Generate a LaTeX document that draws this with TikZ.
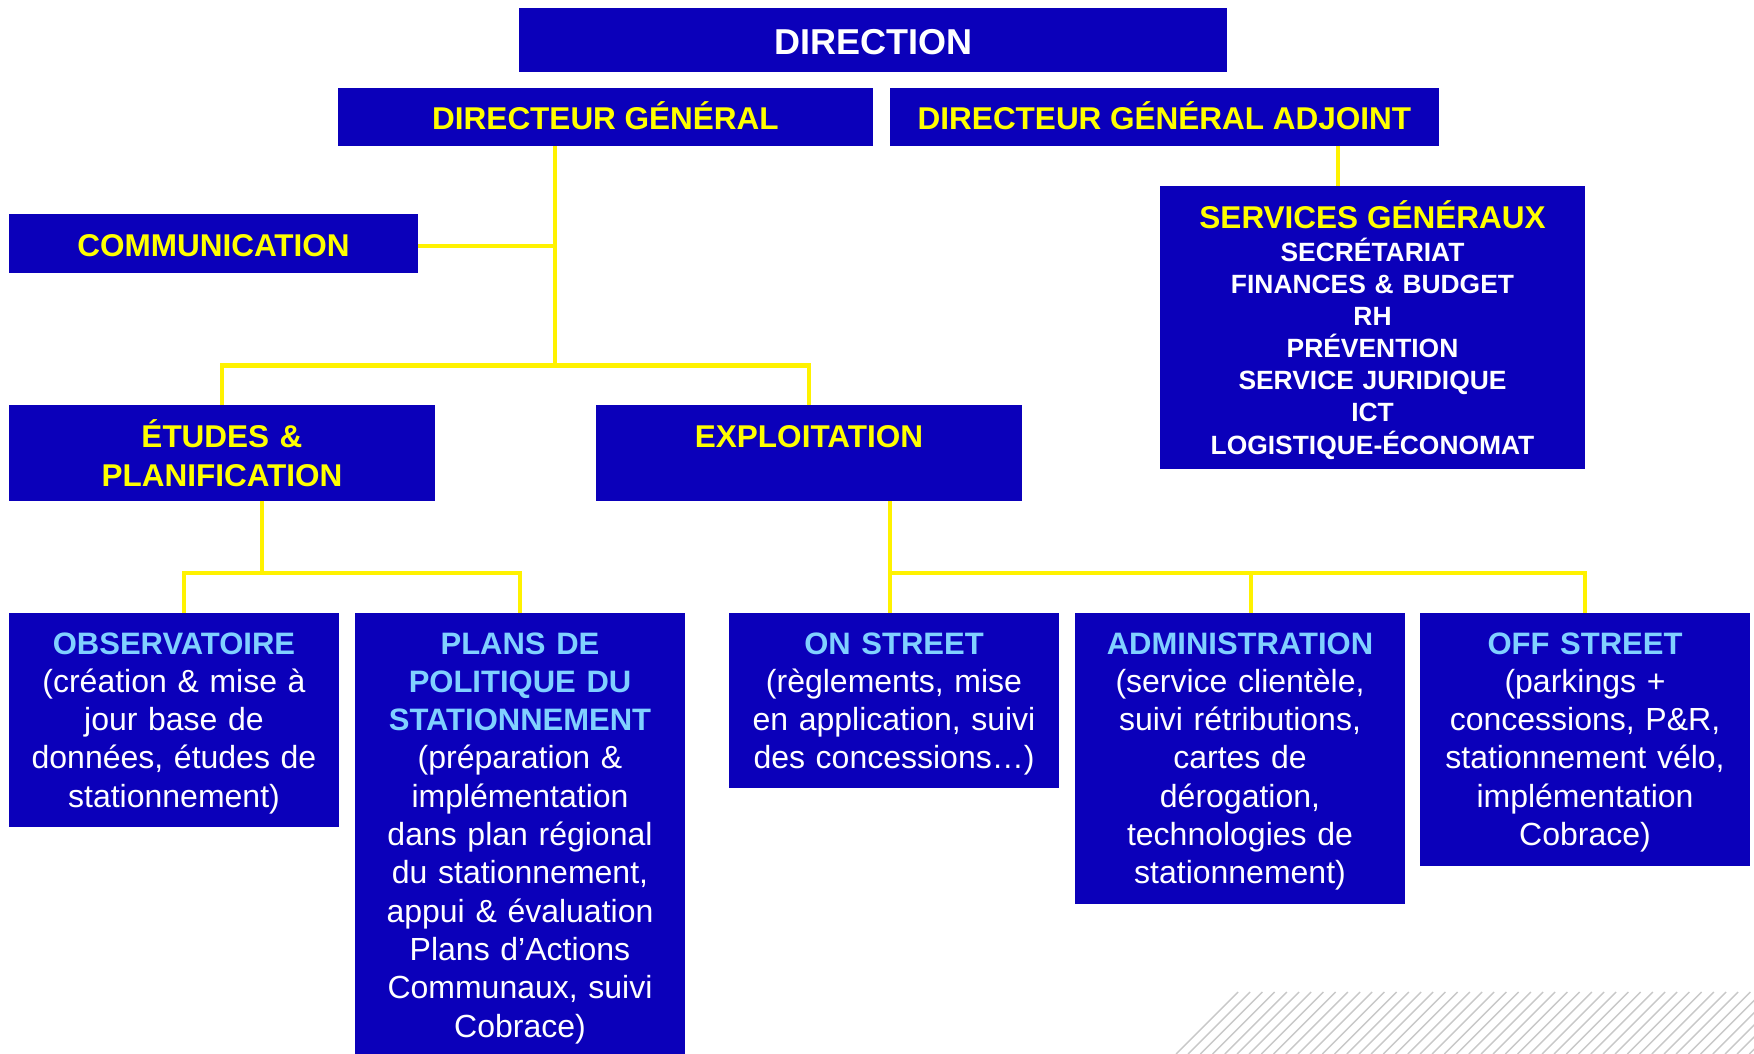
\documentclass[tikz,border=0pt]{standalone}
\usepackage{fontspec}
\setmainfont{Liberation Sans}
\usetikzlibrary{calc}
\definecolor{boxblue}{RGB}{11,0,186}
\definecolor{ttlyellow}{RGB}{255,255,0}
\definecolor{lnyellow}{RGB}{255,242,0}
\definecolor{ttlblue}{RGB}{128,208,255}
\definecolor{hatchgray}{RGB}{200,200,200}
\tikzset{
  orgbox/.style={fill=boxblue, draw=none, inner sep=0pt, outer sep=0pt, anchor=north west},
  conn/.style={draw=lnyellow, line width=4.5pt, line join=miter},
  txt/.style={inner sep=0pt, outer sep=0pt, anchor=base, align=center},
  headtxt/.style={txt, text=white, font=\bfseries\fontsize{36}{43}\selectfont},
  lvltwo/.style={txt, text=ttlyellow, font=\bfseries\fontsize{31.5}{39}\selectfont},
  bodytxt/.style={txt, text=white, font=\fontsize{32}{38.3}\selectfont},
  hatchline/.style={draw=hatchgray, line width=1.4pt}
}
\newcommand{\bluettl}[1]{{\color{ttlblue}\bfseries\fontsize{31}{38.3}\selectfont #1}}
\begin{document}
\begin{tikzpicture}[x=1pt,y=-1pt]
\useasboundingbox (0,0) rectangle (1754,1054);
\fill[white] (0,0) rectangle (1754,1054);

% hatch
\begin{scope}
\clip (0,0) rectangle (1754,1054);
\foreach \k in {0,...,47} {
  \draw[hatchline] (1238+12.2*\k,992) -- ++(-62,62);
}
\end{scope}

% boxes
\node[orgbox, minimum width=708pt, minimum height=64.3pt] (direction) at (519,8) {};
\node[orgbox, minimum width=535pt, minimum height=58.4pt] (dg) at (338,87.6) {};
\node[orgbox, minimum width=549pt, minimum height=58.4pt] (dga) at (890,87.6) {};
\node[orgbox, minimum width=409pt, minimum height=58.6pt] (comm) at (9,214) {};
\node[orgbox, minimum width=425pt, minimum height=283.3pt] (sg) at (1160,186) {};
\node[orgbox, minimum width=426pt, minimum height=96.2pt] (etudes) at (9,405) {};
\node[orgbox, minimum width=426pt, minimum height=96.2pt] (expl) at (596,405) {};
\node[orgbox, minimum width=330pt, minimum height=213.8pt] (obs) at (9,613) {};
\node[orgbox, minimum width=330pt, minimum height=445pt] (plans) at (355,613) {};
\node[orgbox, minimum width=330pt, minimum height=174.6pt] (on) at (729,613) {};
\node[orgbox, minimum width=330pt, minimum height=290.5pt] (admin) at (1075,613) {};
\node[orgbox, minimum width=330pt, minimum height=252.7pt] (off) at (1420,613) {};

% connectors
\coordinate (jdg) at (555,365.5);
\coordinate (jcomm) at (555,246);
\coordinate (jet) at (262,573);
\coordinate (jex) at (890,573);
\coordinate (jadm) at (1251,573);
\coordinate (jdga) at (1338,146);
\draw[conn] (dg.south -| jdg) -- (jdg);
\draw[conn] (comm.east |- jcomm) -- (jcomm);
\draw[conn] (etudes.north) -- (etudes.north |- jdg) -- (expl.north |- jdg) -- (expl.north);
\draw[conn] (etudes.south -| jet) -- (jet);
\draw[conn] ($(obs.north)+(10,0)$) |- (jet) -| (plans.north);
\draw[conn] (expl.south -| jex) -- (jex) -- (off.north |- jex) -- (off.north);
\draw[conn] (jex) -- (on.north -| jex);
\draw[conn] (jadm) -- (admin.north -| jadm);
\draw[conn] (dga.south -| jdga) -- (sg.north -| jdga);

% texts
\node[headtxt] (tdirection) at (873,54.3) {DIRECTION};
\node[lvltwo] (tdg) at (605.5,130) {DIRECTEUR GÉNÉRAL};
\node[lvltwo] (tdga) at (1164.5,130) {DIRECTEUR GÉNÉRAL ADJOINT};
\node[lvltwo] (tcomm) at (213.5,256.3) {COMMUNICATION};
\node[lvltwo, text width=420pt] (tetudes) at (222,447.5) {ÉTUDES \&\\PLANIFICATION};
\node[lvltwo] (texpl) at (809,447.5) {EXPLOITATION};
\node[txt, text=white, text width=420pt, font=\bfseries\fontsize{26.4}{32.2}\selectfont] (tsg) at (1372.5,228.8)
  {{\color{ttlyellow}\fontsize{31.5}{32.2}\selectfont SERVICES GÉNÉRAUX}\\SECRÉTARIAT\\FINANCES \& BUDGET\\RH\\PRÉVENTION\\SERVICE JURIDIQUE\\ICT\\LOGISTIQUE-ÉCONOMAT};
\node[bodytxt, text width=325pt] (tobs) at (174,654)
  {\bluettl{OBSERVATOIRE}\\(création \& mise à\\jour base de\\données, études de\\stationnement)};
\node[bodytxt, text width=325pt] (tplans) at (520,654)
  {\bluettl{PLANS DE}\\\bluettl{POLITIQUE DU}\\\bluettl{STATIONNEMENT}\\(préparation \&\\implémentation\\dans plan régional\\du stationnement,\\appui \& évaluation\\Plans d’Actions\\Communaux, suivi\\Cobrace)};
\node[bodytxt, text width=325pt] (ton) at (894,654)
  {\bluettl{ON STREET}\\(règlements, mise\\en application, suivi\\des concessions…)};
\node[bodytxt, text width=325pt] (tadmin) at (1240,654)
  {\bluettl{ADMINISTRATION}\\(service clientèle,\\suivi rétributions,\\cartes de\\dérogation,\\technologies de\\stationnement)};
\node[bodytxt, text width=325pt] (toff) at (1585,654)
  {\bluettl{OFF STREET}\\(parkings +\\concessions, P\&R,\\stationnement vélo,\\implémentation\\Cobrace)};
\end{tikzpicture}
\end{document}
